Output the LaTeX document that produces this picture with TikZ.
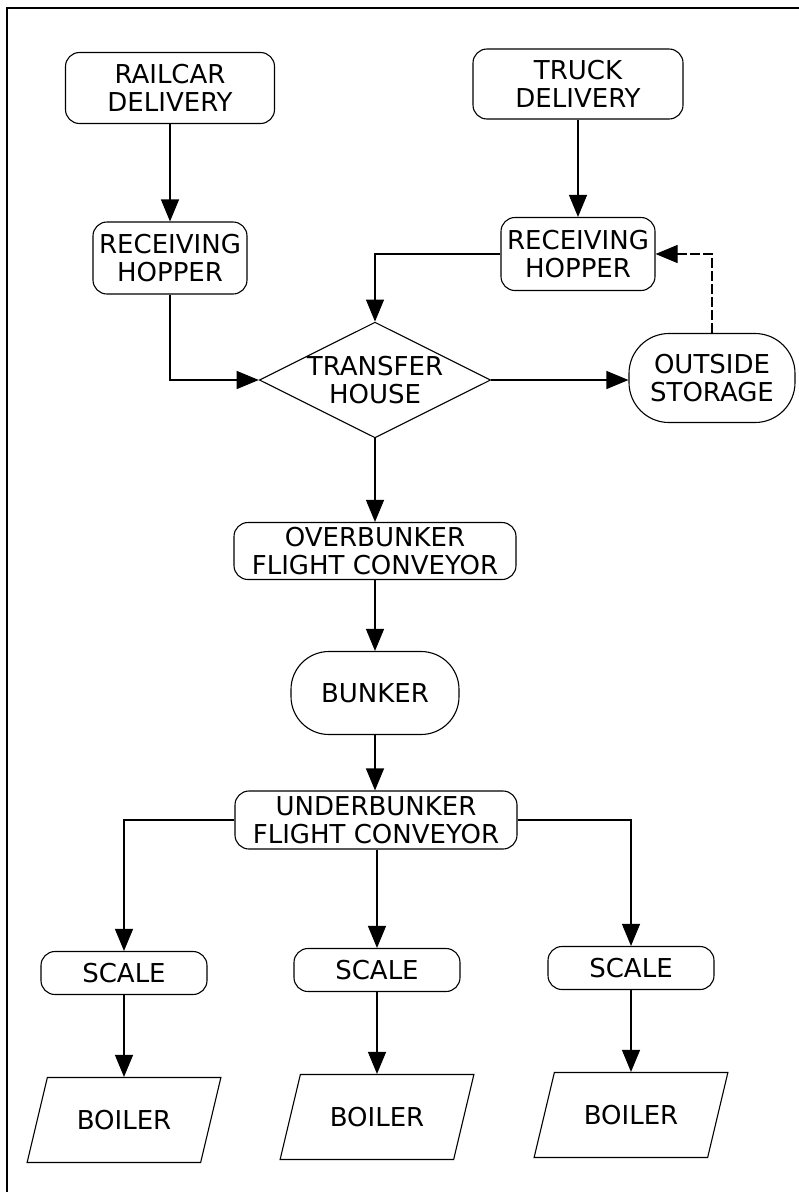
\documentclass[tikz,border=0pt]{standalone}
\usepackage{fontspec}
\setmainfont{DejaVu Sans}
\usetikzlibrary{arrows.meta,shapes.geometric}

\begin{document}
\begin{tikzpicture}[x=1pt,y=-1pt,line width=1.1pt,
    font=\fontsize{26}{28}\selectfont,
    box/.style={draw,rounded corners=14pt,align=center,inner sep=0pt},
    tank/.style={draw,rounded corners=38pt,align=center,inner sep=0pt},
    house/.style={draw,diamond,shape aspect=2,align=center,inner sep=0pt},
    boiler/.style={draw,trapezium,trapezium left angle=57.6,trapezium right angle=122.4,
      trapezium stretches=true,minimum width=194pt,minimum height=85pt,inner sep=0pt},
    flow/.style={-{Triangle[length=22pt,width=18pt]}}]
        \useasboundingbox (0,0) rectangle (799,1192);
        % cadre
        \draw [line width=2.5pt] (7,1192) -- (7,8) -- (799,8);
        % livraison
        \node [box,minimum width=209pt,minimum height=71pt] (rail) at (170,88) {RAILCAR\\DELIVERY};
        \node [box,minimum width=210pt,minimum height=70pt] (truck) at (578,84) {TRUCK\\DELIVERY};
        \node [box,minimum width=154pt,minimum height=72pt] (hopL) at (170,258) {RECEIVING\\HOPPER};
        \node [box,minimum width=154pt,minimum height=73pt] (hopR) at (578,254) {RECEIVING\\HOPPER};
        \node [house,minimum width=226pt,minimum height=115pt] (transfer) at (375,380) {TRANSFER\\HOUSE};
        \node [tank,rounded corners=40pt,minimum width=166pt,minimum height=89pt] (storage) at (712,378) {OUTSIDE\\STORAGE};
        % bunker
        \node [box,minimum width=282pt,minimum height=57pt] (over) at (375,551) {OVERBUNKER\\FLIGHT CONVEYOR};
        \node [tank,minimum width=168pt,minimum height=83pt] (bunker) at (375,693) {BUNKER};
        \node [box,minimum width=282pt,minimum height=58pt] (under) at (376,820) {UNDERBUNKER\\FLIGHT CONVEYOR};
        % balances et chaudieres
        \node [box,minimum width=166pt,minimum height=43pt] (scaleA) at (124,973) {SCALE};
        \node [box,minimum width=166pt,minimum height=43pt] (scaleB) at (377,970) {SCALE};
        \node [box,minimum width=166pt,minimum height=43pt] (scaleC) at (631,968) {SCALE};
        \node [boiler] (boilerA) at (124,1120) {BOILER};
        \node [boiler] (boilerB) at (377,1117) {BOILER};
        \node [boiler] (boilerC) at (631,1115) {BOILER};
        % liaisons
        \draw [flow] (rail) -- (hopL);
        \draw [flow] (truck) -- (hopR);
        \draw [flow] (hopL.south) |- (transfer.west);
        \draw [flow] (hopR.west) -| (transfer.north);
        \draw [flow] (transfer.east) -- (transfer.east -| storage.west);
        \draw [flow,dash pattern=on 10pt off 3pt] (storage.north) |- (hopR.east);
        \draw [flow] (transfer.south) -- (over.north);
        \draw [flow] (over) -- (bunker);
        \draw [flow] (bunker.south) -- (bunker.south |- under.north);
        \draw [flow] (under.west) -| (scaleA.north);
        \draw [flow] (scaleB.north |- under.south) -- (scaleB.north);
        \draw [flow] (under.east) -| (scaleC.north);
        \foreach \s in {A,B,C}
          \draw [flow] (scale\s) -- (boiler\s);
\end{tikzpicture}
\end{document}
